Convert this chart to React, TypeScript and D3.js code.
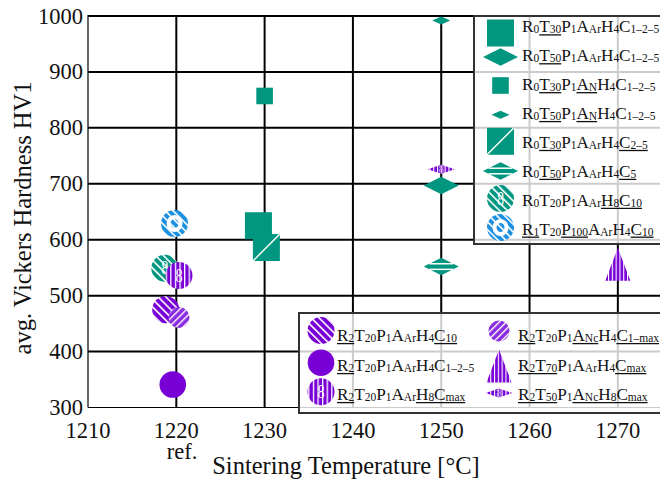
import React from 'react';
import * as d3 from 'd3';

// ---------------- data ----------------
const xTickValues = [1210, 1220, 1230, 1240, 1250, 1260, 1270];
const yTickValues = [300, 400, 500, 600, 700, 800, 900, 1000];

const seriesLabels = [
  'R_{0}[T_{30}]P_{1}A_{Ar}H_{4}C_{1–2–5}',
  'R_{0}[T_{50}]P_{1}A_{Ar}H_{4}C_{1–2–5}',
  'R_{0}[T_{30}]P_{1}[A_{N}]H_{4}C_{1–2–5}',
  'R_{0}[T_{50}]P_{1}[A_{N}]H_{4}C_{1–2–5}',
  'R_{0}[T_{30}]P_{1}A_{Ar}H_{4}[C_{2–5}]',
  'R_{0}[T_{50}]P_{1}A_{Ar}H_{4}[C_{5}]',
  'R_{0}T_{20}P_{1}A_{Ar}[H_{8}C_{10}]',
  '[R_{1}]T_{20}[P_{100}]A_{Ar}H_{4}[C_{10}]',
  '[R_{2}]T_{20}P_{1}A_{Ar}H_{4}[C_{10}]',
  '[R_{2}]T_{20}P_{1}A_{Ar}H_{4}C_{1–2–5}',
  '[R_{2}]T_{20}P_{1}A_{Ar}[H_{8}C_{max}]',
  '[R_{2}]T_{20}P_{1}[A_{Nc}]H_{4}[C_{1–max}]',
  '[R_{2}T_{70}]P_{1}A_{Ar}H_{4}[C_{max}]',
  '[R_{2}T_{50}]P_{1}[A_{Nc}H_{8}C_{max}]',
];
const seriesTemperature = [1229.3, 1250, 1230, 1250, 1230.2, 1250, 1218.7, 1219.8, 1218.8, 1219.6, 1220.3, 1220.3, 1270, 1250];
const seriesHardness = [625, 697, 857, 992, 586, 552, 549, 629, 475, 341, 536, 461, 556, 726];

// ---------------- styles ----------------
const TEAL = '#00967f';
const BLUE = '#1b8fe0';
const PURPLE = '#7800d6';
const PURPLE_LIGHT = '#8a2ae0';
const seriesMarker = [
  'bigSquare', 'bigDiamond', 'smallSquare', 'smallDiamond', 'slashSquare', 'stripeDiamond',
  'teal8Circle', 'blueRingCircle', 'diagCircle', 'solidCircle', 'vert8Circle', 'lightDiagCircle',
  'stripeTriangle', 'thinDiamond',
];
const FONT = '"Liberation Serif", "DejaVu Serif", serif';
const LEGEND_FONT_SIZE = 17.2;

// legend layouts
const legend1Rows = [0, 1, 2, 3, 4, 5, 6, 7];
const legend1MarkerY = [33, 57, 85.5, 114.7, 141.3, 171, 198.5, 227.5];
const legend2Cols = [[8, 9, 10], [11, 12, 13]];
const legend2MarkerY = [[330.5, 362.7, 391.7], [331, 366, 393]];
const legend2Baselines = [341, 371, 400];

// ---------------- helpers ----------------
let _ctx: CanvasRenderingContext2D | null = null;
function measure(t: string, size: number) {
  if (!_ctx) _ctx = document.createElement('canvas').getContext('2d');
  _ctx!.font = `${size}px "Liberation Serif"`;
  return _ctx!.measureText(t).width;
}

type Tok = { t: string; sub: boolean; u: boolean };
function parse(spec: string): Tok[] {
  const out: Tok[] = [];
  let u = false;
  let i = 0;
  while (i < spec.length) {
    const ch = spec[i];
    if (ch === '[') { u = true; i++; continue; }
    if (ch === ']') { u = false; i++; continue; }
    if (ch === '_' && spec[i + 1] === '{') {
      const j = spec.indexOf('}', i);
      out.push({ t: spec.slice(i + 2, j), sub: true, u });
      i = j + 1;
      continue;
    }
    out.push({ t: ch, sub: false, u });
    i++;
  }
  return out;
}

function RichLabel({ spec, x, y, size = LEGEND_FONT_SIZE }: { spec: string; x: number; y: number; size?: number }) {
  const toks = parse(spec);
  let cx = x;
  const texts: any[] = [];
  const runs: [number, number][] = [];
  toks.forEach((tk, i) => {
    const fs = tk.sub ? size * 0.667 : size;
    const w = measure(tk.t, fs);
    texts.push(
      <text key={i} x={cx} y={tk.sub ? y + 1 : y} fontSize={fs} fontFamily={FONT} fill="#111">{tk.t}</text>
    );
    if (tk.u) {
      const last = runs[runs.length - 1];
      if (last && Math.abs(last[1] - cx) < 0.01) last[1] = cx + w;
      else runs.push([cx, cx + w]);
    }
    cx += w;
  });
  return (
    <g>
      {texts}
      {runs.map((r, i) => (
        <line key={'u' + i} x1={r[0]} x2={r[1]} y1={y + 2.6} y2={y + 2.6} stroke="#111" strokeWidth={1.3} />
      ))}
    </g>
  );
}

function diamondPath(cx: number, cy: number, hw: number, hh: number) {
  return `M${cx - hw},${cy}L${cx},${cy - hh}L${cx + hw},${cy}L${cx},${cy + hh}Z`;
}

function Eight({ cx, cy, size = 19 }: { cx: number; cy: number; size?: number }) {
  return (
    <text x={0} y={0} transform={`translate(${cx},${cy}) scale(0.75,1)`} textAnchor="middle"
      dominantBaseline="central" fontSize={size} fontFamily={FONT} fill="white">8</text>
  );
}

function Marker({ kind, cx, cy }: { kind: string; cx: number; cy: number }) {
  switch (kind) {
    case 'bigSquare':
      return <rect x={cx - 13.5} y={cy - 13.5} width={27} height={27} fill={TEAL} />;
    case 'slashSquare':
      return (
        <g>
          <rect x={cx - 13.5} y={cy - 13.5} width={27} height={27} fill={TEAL} />
          <line x1={cx - 13.5} y1={cy + 13.5} x2={cx + 13.5} y2={cy - 13.5} stroke="white" strokeWidth={1.4} />
        </g>
      );
    case 'smallSquare':
      return <rect x={cx - 8.3} y={cy - 8.3} width={16.6} height={16.6} fill={TEAL} />;
    case 'bigDiamond':
      return <path d={diamondPath(cx, cy, 17.5, 8.7)} fill={TEAL} />;
    case 'smallDiamond':
      return <path d={diamondPath(cx, cy, 9, 4)} fill={TEAL} />;
    case 'stripeDiamond': {
      const d1 = 2.8;
      const hw = 17.5 * (1 - d1 / 8.7);
      return (
        <g>
          <path d={diamondPath(cx, cy, 17.5, 8.7)} fill={TEAL} />
          <line x1={cx - hw} x2={cx + hw} y1={cy - d1} y2={cy - d1} stroke="white" strokeWidth={1.5} />
          <line x1={cx - hw} x2={cx + hw} y1={cy + d1} y2={cy + d1} stroke="white" strokeWidth={1.5} />
        </g>
      );
    }
    case 'teal8Circle':
      return (
        <g>
          <circle cx={cx} cy={cy} r={13.5} fill="url(#hatchTeal)" />
          <Eight cx={cx} cy={cy} />
        </g>
      );
    case 'blueRingCircle':
      return (
        <g>
          <circle cx={cx} cy={cy} r={13.5} fill="url(#hatchBlue)" />
          <ellipse cx={cx} cy={cy} rx={6} ry={6.5} fill="none" stroke="white" strokeWidth={4} />
        </g>
      );
    case 'diagCircle':
      return <circle cx={cx} cy={cy} r={13.5} fill="url(#hatchPurple)" />;
    case 'solidCircle':
      return <circle cx={cx} cy={cy} r={13.3} fill={PURPLE} />;
    case 'vert8Circle':
      return (
        <g>
          <circle cx={cx} cy={cy} r={13.5} fill="url(#vertPurple)" />
          <Eight cx={cx} cy={cy} />
        </g>
      );
    case 'lightDiagCircle':
      return <circle cx={cx} cy={cy} r={10.5} fill="url(#hatchPurpleLight)" />;
    case 'stripeTriangle':
      return <path d={`M${cx},${cy - 16.5}L${cx + 12.5},${cy + 16.5}L${cx - 12.5},${cy + 16.5}Z`} fill="url(#vertPurpleFine)" />;
    case 'thinDiamond':
      return (
        <g>
          <path d={diamondPath(cx, cy, 13.5, 4.5)} fill="url(#vertPurpleFine)" />
          <text x={0} y={0} transform={`translate(${cx},${cy}) scale(0.8,1)`} textAnchor="middle"
            dominantBaseline="central" fontSize={13} fontFamily={FONT} fill="white" stroke={PURPLE}
            strokeWidth={0.6} strokeDasharray="1.2 1.2">8</text>
        </g>
      );
    default:
      return null;
  }
}

// ---------------- chart ----------------
export default function App() {
  const W = 660, H = 482;
  const x = d3.scaleLinear().domain([1210, 1275]).range([88, 662]);
  const y = d3.scaleLinear().domain([300, 1000]).range([407.5, 16]);
  const xMin = x(1210), xMax = W, yTop = y(1000), yBot = y(300);

  const points = seriesTemperature.map((t, i) => ({ i, cx: x(t), cy: y(seriesHardness[i]) }));

  return (
    <svg width={W} height={H} style={{ position: 'absolute', left: 0, top: 0, background: 'white' }}>
      <defs>
        <pattern id="hatchTeal" width={5.5} height={5.5} patternUnits="userSpaceOnUse" patternTransform="rotate(-45)">
          <rect width={5.5} height={5.5} fill={TEAL} />
          <rect width={1.6} height={5.5} fill="white" />
        </pattern>
        <pattern id="hatchBlue" width={5.5} height={5.5} patternUnits="userSpaceOnUse" patternTransform="rotate(-45)">
          <rect width={5.5} height={5.5} fill={BLUE} />
          <rect width={1.6} height={5.5} fill="white" />
        </pattern>
        <pattern id="hatchPurple" width={5.5} height={5.5} patternUnits="userSpaceOnUse" patternTransform="rotate(-45)">
          <rect width={5.5} height={5.5} fill={PURPLE} />
          <rect width={1.6} height={5.5} fill="white" />
        </pattern>
        <pattern id="hatchPurpleLight" width={5} height={5} patternUnits="userSpaceOnUse" patternTransform="rotate(45)">
          <rect width={5} height={5} fill={PURPLE_LIGHT} />
          <rect width={1.4} height={5} fill="white" />
        </pattern>
        <pattern id="vertPurple" width={4.6} height={4.6} patternUnits="userSpaceOnUse">
          <rect width={4.6} height={4.6} fill={PURPLE} />
          <rect width={1.3} height={4.6} fill="white" />
        </pattern>
        <pattern id="vertPurpleFine" width={3.8} height={3.8} patternUnits="userSpaceOnUse">
          <rect width={3.8} height={3.8} fill={PURPLE} />
          <rect width={1.1} height={3.8} fill="white" />
        </pattern>
      </defs>

      {/* grid */}
      {xTickValues.filter((v) => v > 1210).map((v) => (
        <line key={'gx' + v} x1={x(v)} x2={x(v)} y1={yTop} y2={yBot} stroke="#000" strokeWidth={2} />
      ))}
      {yTickValues.filter((v) => v > 300).map((v) => (
        <line key={'gy' + v} x1={xMin} x2={xMax} y1={y(v)} y2={y(v)} stroke="#000" strokeWidth={2} />
      ))}
      {/* spines */}
      <line x1={xMin} x2={xMin} y1={yTop - 1} y2={yBot} stroke="#000" strokeWidth={1.2} />
      <line x1={xMin} x2={xMax} y1={yBot} y2={yBot} stroke="#000" strokeWidth={1.2} />

      {/* tick labels */}
      {yTickValues.map((v) => (
        <text key={'ty' + v} x={83} y={y(v)} textAnchor="end" dominantBaseline="central" fontSize={22.5}
          fontFamily={FONT} fill="#111">{v}</text>
      ))}
      {xTickValues.map((v) => (
        <text key={'tx' + v} x={x(v)} y={438} textAnchor="middle" fontSize={22.5} fontFamily={FONT} fill="#111">{v}</text>
      ))}
      <text x={182} y={459} textAnchor="middle" fontSize={22.5} fontFamily={FONT} fill="#111">ref.</text>
      <text x={346} y={474} textAnchor="middle" fontSize={24.5} fontFamily={FONT} fill="#111">Sintering Temperature [°C]</text>
      <text transform={`translate(31,218) rotate(-90)`} textAnchor="middle" fontSize={24.5} fontFamily={FONT} fill="#111">
        avg. Vickers Hardness HV1
      </text>

      {/* data */}
      {points.map((p) => (
        <Marker key={'m' + p.i} kind={seriesMarker[p.i]} cx={p.cx} cy={p.cy} />
      ))}

      {/* legend 1 */}
      <rect x={474} y={16} width={220} height={228} fill="white" fillOpacity={0.8} stroke="#333" strokeWidth={2} />
      {legend1Rows.map((si, r) => (
        <g key={'l1' + si}>
          <Marker kind={seriesMarker[si]} cx={500.5} cy={legend1MarkerY[r]} />
          <RichLabel spec={seriesLabels[si]} x={522} y={32.3 + 28.9 * r} />
        </g>
      ))}

      {/* legend 2 */}
      <rect x={299} y={313} width={400} height={100} fill="white" fillOpacity={0.8} stroke="#333" strokeWidth={2} />
      {legend2Cols.map((col, c) =>
        col.map((si, r) => (
          <g key={'l2' + si}>
            <Marker kind={seriesMarker[si]} cx={c === 0 ? 321 : 499} cy={legend2MarkerY[c][r]} />
            <RichLabel spec={seriesLabels[si]} x={c === 0 ? 337 : 518} y={legend2Baselines[r]} />
          </g>
        ))
      )}
    </svg>
  );
}
